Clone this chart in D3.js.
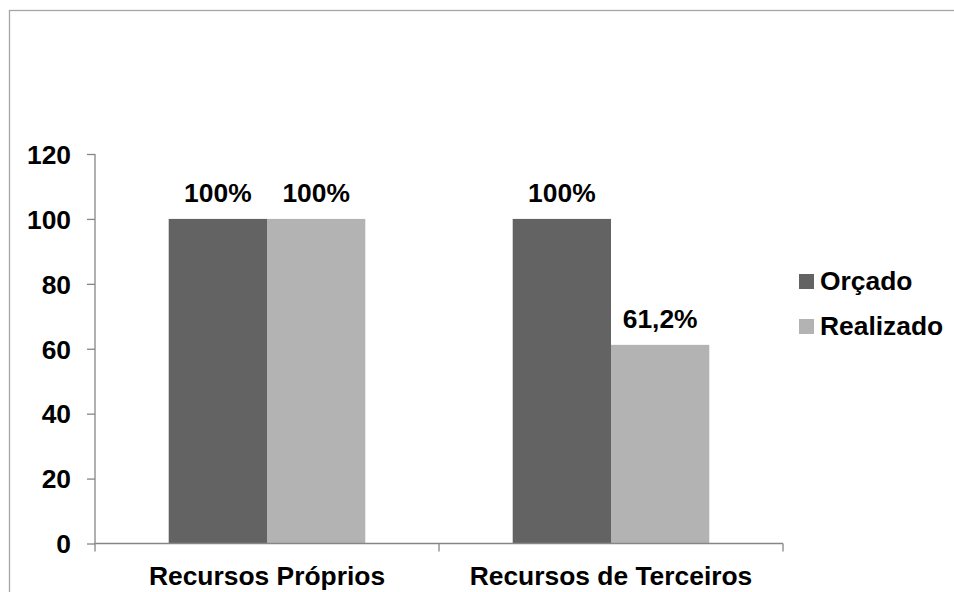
<!DOCTYPE html>
<html><head><meta charset="utf-8">
<script src="https://cdn.jsdelivr.net/npm/d3@7"></script>
<style>
body{margin:0;background:#fff;}
text{font-family:"Liberation Sans",Arial,sans-serif;font-weight:bold;fill:#000;}
</style></head>
<body><svg id="c" width="954" height="592"></svg>
<script>
const categories = ["Recursos Próprios", "Recursos de Terceiros"];
const seriesNames = ["Orçado", "Realizado"];
const orcado = [100, 100];
const realizado = [100, 61.2];
const valueLabels = [["100%", "100%"], ["100%", "61,2%"]];
const yTicks = [0, 20, 40, 60, 80, 100, 120];
const colors = ["#636363", "#b3b3b3"];

const svg = d3.select("#c");
const FS = 26.4;
// outer border
svg.append("rect").attr("x", 9.5).attr("y", 10.5).attr("width", 1200).attr("height", 1200)
  .attr("fill", "none").attr("stroke", "#a6a6a6").attr("stroke-width", 1.3);

const y = d3.scaleLinear().domain([0, 120]).range([543.5, 154]);
const x = d3.scaleBand().domain(categories).range([95, 783]).padding(0);
const xs = d3.scaleBand().domain(seriesNames).range([73.7, x.bandwidth() - 73.7]).padding(0);

const data = categories.map((c, i) => ({cat: c, vals: [orcado[i], realizado[i]], labels: valueLabels[i]}));

const g = svg.append("g");
data.forEach(d => {
  seriesNames.forEach((s, j) => {
    g.append("rect")
      .attr("x", x(d.cat) + xs(s))
      .attr("y", y(d.vals[j]))
      .attr("width", xs.bandwidth())
      .attr("height", y(0) - y(d.vals[j]))
      .attr("fill", colors[j]);
    g.append("text")
      .attr("x", x(d.cat) + xs(s) + xs.bandwidth() / 2)
      .attr("y", y(d.vals[j]) - 17)
      .attr("text-anchor", "middle")
      .attr("font-size", FS)
      .text(d.labels[j]);
  });
});

// y axis
const yAxis = d3.axisLeft(y).tickValues(yTicks).tickSize(8).tickPadding(16).tickFormat(d3.format("d"));
const ya = svg.append("g").attr("transform", "translate(95,0)").call(yAxis);
ya.select(".domain").attr("stroke", "#868686").attr("stroke-width", 1.3).attr("d", `M0,${y(120)}V${y(0) + 8}`);
ya.selectAll(".tick line").attr("stroke", "#868686").attr("stroke-width", 1.3);
ya.selectAll(".tick text").attr("font-size", FS).attr("font-family", null).attr("fill", "#000").attr("dy", "0.35em");

// x axis
const xa = svg.append("g");
xa.append("line").attr("x1", x.range()[0]).attr("x2", x.range()[1]).attr("y1", y(0)).attr("y2", y(0))
  .attr("stroke", "#868686").attr("stroke-width", 1.3);
const bounds = categories.map(c => x(c)).concat([x.range()[1]]).slice(1);
bounds.forEach(b => {
  xa.append("line").attr("x1", b).attr("x2", b).attr("y1", y(0)).attr("y2", y(0) + 8)
    .attr("stroke", "#868686").attr("stroke-width", 1.3);
});
categories.forEach(c => {
  xa.append("text").attr("x", x(c) + x.bandwidth() / 2).attr("y", 585)
    .attr("text-anchor", "middle").attr("font-size", FS).text(c);
});

// legend
const lg = svg.append("g").attr("transform", "translate(799,274)");
seriesNames.forEach((s, i) => {
  const row = lg.append("g").attr("transform", `translate(0,${i * 45})`);
  row.append("rect").attr("width", 15).attr("height", 15).attr("fill", colors[i]);
  row.append("text").attr("x", 21).attr("y", 15.5).attr("font-size", FS).text(s);
});
</script></body></html>
